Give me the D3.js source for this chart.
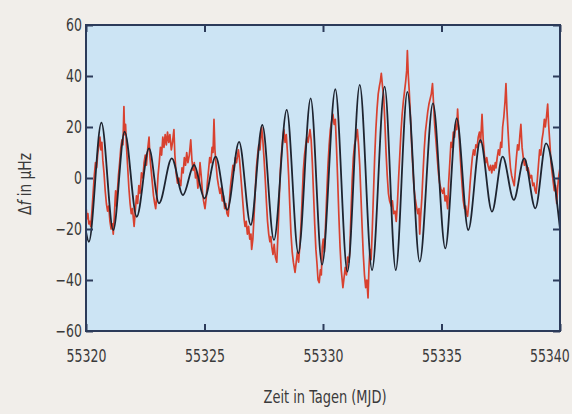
<!DOCTYPE html>
<html>
  <head>
    <meta charset="utf-8">
    <title>Frequenzverschiebung</title>
    <script src="https://d3js.org/d3.v7.min.js"></script>
    <style>
      body { margin: 0; background: #f1eeea; }
      text { font-family: "DejaVu Sans Condensed", "DejaVu Sans", sans-serif; fill: #3a3a3a; }
    </style>
  </head>
  <body>
    <script>
      // Start of the time axis (MJD); series times are days after it
      const mjd0 = 55320;

      // Measured shift (red), [day, value in µHz]
      const measured = [
        [0.00,-11],[0.04,-16],[0.08,-14],[0.12,-18],[0.16,-17],[0.20,-19],[0.25,-13],[0.30,-6],[0.35,1],[0.40,6],
        [0.45,4],[0.50,10],[0.55,13],[0.59,16],[0.63,11],[0.67,14],[0.71,7],[0.76,2],[0.81,-5],[0.86,-10],
        [0.91,-13],[0.96,-11],[1.01,-17],[1.06,-20],[1.11,-18],[1.15,-22],[1.19,-16],[1.23,-8],[1.25,-5],[1.28,-11],
        [1.32,-6],[1.37,1],[1.42,6],[1.47,12],[1.52,15],[1.56,13],[1.60,28],[1.63,17],[1.67,21],[1.71,12],
        [1.76,4],[1.81,-4],[1.86,-10],[1.91,-14],[1.96,-12],[2.03,-19],[2.08,-13],[2.13,-7],[2.18,-10],[2.23,-3],
        [2.28,-6],[2.34,2],[2.40,0],[2.45,6],[2.50,9],[2.55,5],[2.60,11],[2.66,16],[2.70,8],[2.75,3],
        [2.80,-2],[2.85,-7],[2.90,-10],[2.94,-12],[2.99,-7],[3.04,1],[3.09,6],[3.14,12],[3.19,9],[3.24,16],
        [3.29,12],[3.34,17],[3.39,13],[3.44,18],[3.49,14],[3.54,17],[3.60,11],[3.65,14],[3.71,19],[3.75,9],
        [3.80,2],[3.86,-2],[3.92,0],[4.00,-3],[4.05,4],[4.10,2],[4.15,8],[4.20,5],[4.25,10],[4.30,6],
        [4.36,9],[4.42,15],[4.47,7],[4.52,3],[4.57,6],[4.62,0],[4.67,2],[4.72,-4],[4.77,-1],[4.81,6],
        [4.86,1],[4.91,-5],[4.96,-9],[5.02,-12],[5.07,-8],[5.12,-2],[5.17,3],[5.22,8],[5.27,6],[5.32,12],
        [5.36,10],[5.40,23],[5.44,11],[5.49,5],[5.54,0],[5.59,-3],[5.65,-6],[5.70,-4],[5.75,-9],[5.80,-7],
        [5.85,-12],[5.90,-10],[5.95,-14],[6.00,-15],[6.05,-9],[6.10,-3],[6.15,1],[6.20,5],[6.25,3],[6.30,8],
        [6.35,6],[6.43,11],[6.48,7],[6.53,1],[6.58,-5],[6.63,-11],[6.67,-16],[6.71,-19],[6.76,-17],[6.81,-22],
        [6.86,-19],[6.91,-24],[6.96,-22],[6.99,-28],[7.04,-24],[7.09,-15],[7.14,-5],[7.19,4],[7.24,9],[7.29,13],
        [7.34,11],[7.41,20],[7.46,15],[7.51,8],[7.56,0],[7.61,-9],[7.66,-17],[7.71,-22],[7.76,-25],[7.80,-23],
        [7.84,-27],[7.89,-30],[7.94,-26],[7.99,-31],[8.05,-33],[8.10,-22],[8.15,-9],[8.20,3],[8.25,10],[8.30,15],
        [8.35,19],[8.40,14],[8.45,17],[8.50,10],[8.55,1],[8.60,-11],[8.65,-22],[8.70,-29],[8.75,-33],[8.82,-37],
        [8.87,-33],[8.92,-29],[8.97,-33],[9.02,-27],[9.07,-19],[9.12,-8],[9.17,3],[9.22,9],[9.27,13],[9.32,16],
        [9.37,14],[9.45,19],[9.50,15],[9.55,6],[9.60,-6],[9.65,-18],[9.70,-28],[9.75,-34],[9.79,-40],[9.84,-41],
        [9.89,-36],[9.93,-38],[9.97,-27],[10.01,-24],[10.06,-29],[10.11,-18],[10.16,-6],[10.21,5],[10.26,13],[10.31,19],
        [10.36,22],[10.42,25],[10.47,21],[10.52,23],[10.57,12],[10.62,-1],[10.67,-15],[10.72,-27],[10.77,-36],[10.84,-43],
        [10.89,-39],[10.94,-35],[10.99,-38],[11.04,-31],[11.09,-33],[11.13,-29],[11.18,-14],[11.23,-1],[11.28,8],[11.33,13],
        [11.38,15],[11.45,19],[11.50,13],[11.55,5],[11.60,-7],[11.65,-19],[11.70,-30],[11.75,-38],[11.80,-43],[11.85,-40],
        [11.90,-47],[11.94,-35],[11.98,-28],[12.03,-32],[12.08,-20],[12.13,-6],[12.18,8],[12.23,19],[12.28,27],[12.33,33],
        [12.38,36],[12.42,38],[12.46,41],[12.51,36],[12.56,32],[12.61,22],[12.66,10],[12.71,1],[12.76,-6],[12.81,-9],
        [12.88,-11],[12.93,-9],[12.98,-14],[13.04,-13],[13.09,-17],[13.14,-10],[13.19,0],[13.24,9],[13.29,18],[13.34,25],
        [13.39,30],[13.44,34],[13.49,38],[13.53,42],[13.56,50],[13.60,40],[13.64,34],[13.69,24],[13.74,13],[13.79,4],
        [13.84,-4],[13.89,-8],[13.94,-11],[14.00,-14],[14.05,-12],[14.08,-22],[14.12,-15],[14.17,-8],[14.22,2],[14.27,11],
        [14.32,18],[14.37,22],[14.42,26],[14.47,29],[14.52,31],[14.57,33],[14.62,37],[14.66,30],[14.71,21],[14.77,14],
        [14.82,8],[14.87,2],[14.92,-2],[14.97,-4],[15.05,-6],[15.10,-4],[15.15,-9],[15.20,-7],[15.26,-12],[15.30,-2],
        [15.35,6],[15.40,14],[15.45,12],[15.50,18],[15.55,16],[15.60,21],[15.64,19],[15.68,27],[15.72,20],[15.77,12],
        [15.82,4],[15.87,-3],[15.92,-9],[15.97,-12],[16.02,-11],[16.06,-14],[16.10,-15],[16.15,-10],[16.20,-3],[16.25,3],
        [16.30,8],[16.35,11],[16.40,9],[16.45,13],[16.50,12],[16.55,16],[16.60,18],[16.65,14],[16.71,25],[16.76,15],
        [16.81,9],[16.86,6],[16.91,8],[16.96,5],[17.02,3],[17.07,5],[17.12,2],[17.17,5],[17.22,3],[17.27,6],
        [17.30,4],[17.35,8],[17.40,11],[17.45,9],[17.50,14],[17.54,12],[17.58,20],[17.63,24],[17.68,30],[17.72,37],
        [17.76,27],[17.81,18],[17.86,10],[17.91,4],[17.96,1],[18.01,-1],[18.07,-3],[18.11,2],[18.16,8],[18.21,13],
        [18.26,11],[18.31,17],[18.35,21],[18.40,12],[18.45,8],[18.50,5],[18.55,7],[18.60,3],[18.65,4],[18.70,2],
        [18.75,0],[18.80,1],[18.85,-3],[18.90,-2],[18.95,-5],[18.99,-6],[19.04,-1],[19.09,5],[19.14,11],[19.19,9],
        [19.24,15],[19.29,18],[19.34,23],[19.38,20],[19.43,24],[19.48,29],[19.52,21],[19.57,14],[19.62,6],[19.67,2],
        [19.72,-2],[19.76,-5],[19.81,-3],[19.86,-10],[19.90,-4],[19.95,1],[20.00,4]
      ];

      // Model curve (black): its turning points, [day, value in µHz]
      const model = [
        [0.00,-21],[0.12,-25],[0.65,21.7],[1.15,-20.4],[1.63,18.2],[2.14,-15.2],[2.66,11.6],[3.08,-9.9],
        [3.62,7.7],[4.09,-6.7],[4.56,5.1],[5.00,-8],[5.47,8.4],[5.96,-12.5],[6.46,14.2],[6.95,-18.4],
        [7.44,20.8],[7.93,-24.3],[8.47,26.7],[8.96,-29.5],[9.48,31.2],[9.96,-34],[10.52,34.8],[11.03,-36.7],
        [11.55,36.5],[12.07,-36.1],[12.60,35.8],[13.07,-36.1],[13.56,33.8],[14.08,-32.8],[14.64,29.3],[15.16,-27.6],
        [15.64,23.4],[16.13,-20.4],[16.64,14.9],[17.13,-13.2],[17.58,8.4],[18.05,-8.6],[18.49,7.7],[18.96,-11.9],
        [19.41,13.6],[20.00,-20]
      ];

      const xTicks = [55320, 55325, 55330, 55335, 55340];
      const yTicks = [-60, -40, -20, 0, 20, 40, 60];

      const width = 572, height = 414;
      const margin = { top: 25, right: 12, bottom: 83, left: 86 };
      const w = width - margin.left - margin.right;
      const h = height - margin.top - margin.bottom;
      const frame = "#2c3b5a";
      const squeeze = 0.82;   // the printed font is a narrow one

      const svg = d3.select("body").append("svg")
        .attr("width", width)
        .attr("height", height);

      const g = svg.append("g")
        .attr("transform", `translate(${margin.left},${margin.top})`);

      const x = d3.scaleLinear().domain([55320, 55340]).range([0, w]);
      const y = d3.scaleLinear().domain([-60, 60]).range([h, 0]);

      g.append("rect")
        .attr("width", w)
        .attr("height", h)
        .attr("fill", "#cce4f4");

      g.append("defs").append("clipPath").attr("id", "clip")
        .append("rect").attr("width", w).attr("height", h);

      // Red: measured values
      const line = d3.line()
        .x(d => x(mjd0 + d[0]))
        .y(d => y(d[1]));

      g.append("path")
        .datum(measured)
        .attr("clip-path", "url(#clip)")
        .attr("fill", "none")
        .attr("stroke", "#d8412f")
        .attr("stroke-width", 1.7)
        .attr("stroke-linejoin", "round")
        .attr("d", line);

      // Black: model, smooth through its turning points
      g.append("path")
        .datum(model)
        .attr("clip-path", "url(#clip)")
        .attr("fill", "none")
        .attr("stroke", "#1e2430")
        .attr("stroke-width", 1.8)
        .attr("d", line.curve(d3.curveMonotoneX));

      // Axes, ticks pointing inwards
      const fmtY = d => d < 0 ? "\u2212" + Math.abs(d) : String(d);

      const axLeft = g.append("g")
        .call(d3.axisLeft(y).tickValues(yTicks).tickSizeInner(-7).tickSizeOuter(0).tickPadding(5).tickFormat(fmtY));
      const axRight = g.append("g")
        .attr("transform", `translate(${w},0)`)
        .call(d3.axisRight(y).tickValues(yTicks).tickSizeInner(-7).tickSizeOuter(0).tickFormat(""));
      const axBottom = g.append("g")
        .attr("transform", `translate(0,${h})`)
        .call(d3.axisBottom(x).tickValues(xTicks).tickSizeInner(-7).tickSizeOuter(0).tickPadding(19).tickFormat(d3.format("d")));
      const axTop = g.append("g")
        .call(d3.axisTop(x).tickValues(xTicks).tickSizeInner(-7).tickSizeOuter(0).tickFormat(""));

      [axLeft, axRight, axBottom, axTop].forEach(a => {
        a.select(".domain").remove();
        a.selectAll("line").attr("stroke", frame).attr("stroke-width", 2);
        a.selectAll("text").attr("font-size", 17).attr("fill", "#3a3a3a")
          .attr("font-family", null)
          .attr("transform", `scale(${squeeze},1)`);
      });

      // last date label sits left of the corner
      axBottom.selectAll(".tick text").filter(d => d === 55340).attr("dx", -13);

      g.append("rect")
        .attr("width", w)
        .attr("height", h)
        .attr("fill", "none")
        .attr("stroke", frame)
        .attr("stroke-width", 2);

      // Axis titles
      svg.append("text")
        .attr("transform", `translate(${margin.left + w / 2 + 2},403) scale(0.85,1)`)
        .attr("text-anchor", "middle")
        .attr("font-size", 17)
        .text("Zeit in Tagen (MJD)");

      const yt = svg.append("text")
        .attr("transform", `translate(31,${margin.top + y(0) + 6}) rotate(-90) scale(0.9,1)`)
        .attr("text-anchor", "middle")
        .attr("font-size", 17);
      yt.append("tspan").text("\u0394");
      yt.append("tspan").attr("font-style", "italic").text("f");
      yt.append("tspan").text(" in \u03bcHz");
    </script>
  </body>
</html>
